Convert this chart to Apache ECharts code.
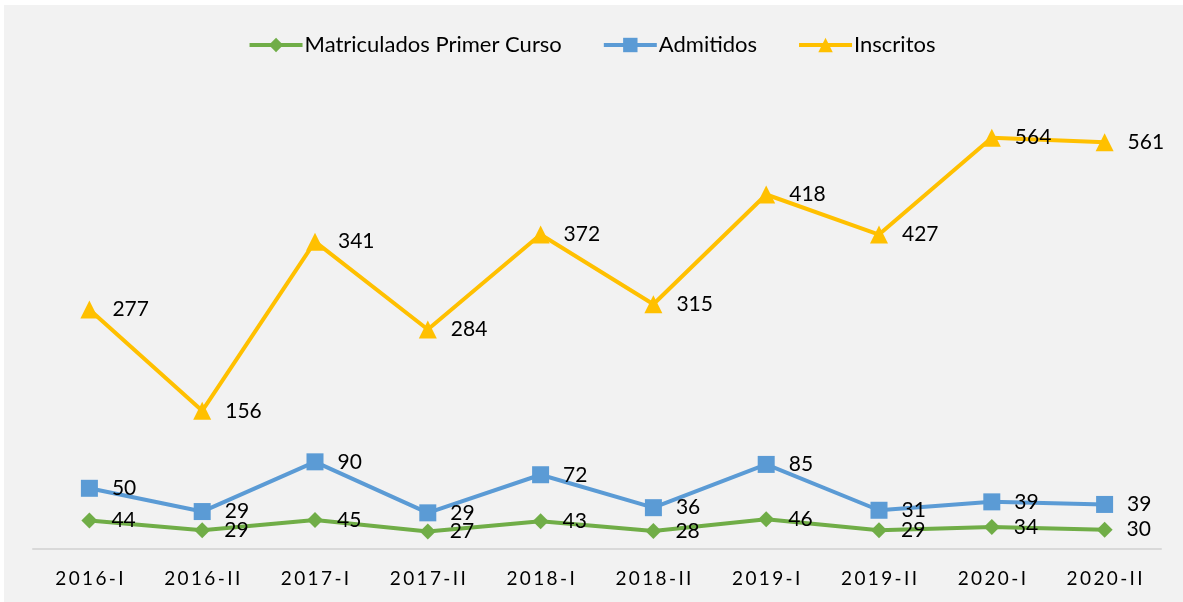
<!DOCTYPE html>
<html>
<head>
<meta charset="utf-8">
<script src="https://cdn.jsdelivr.net/npm/echarts@6/dist/echarts.min.js"></script>
<style>
    html, body { margin: 0; padding: 0; background: #ffffff; }
    #bg { position: absolute; left: 4px; top: 5px; right: 0; bottom: 0; background: #f2f2f2; }
    #chart { position: absolute; left: 0; top: 0; width: 1183px; height: 602px; }
</style>
</head>
<body>
<div id="bg"></div>
<div id="chart"></div>
<script>
// periodos
const periodos = ['2016-I', '2016-II', '2017-I', '2017-II', '2018-I', '2018-II', '2019-I', '2019-II', '2020-I', '2020-II'];
// series (lineas apiladas, como en el original)
const matriculados = [44, 29, 45, 27, 43, 28, 46, 29, 34, 30];
const admitidos = [50, 29, 90, 29, 72, 36, 85, 31, 39, 39];
const inscritos = [277, 156, 341, 284, 372, 315, 418, 427, 564, 561];

const fuente = 'Lato, "Open Sans", sans-serif';

function serie(name, data, color, symbol, size) {
    return {
        name: name,
        type: 'line',
        stack: 'total',
        data: data,
        symbol: symbol,
        symbolSize: size,
        lineStyle: { color: color, width: 4 },
        itemStyle: { color: color },
        label: {
            show: true,
            position: 'right',
            distance: 14,
            color: '#000',
            fontFamily: fuente,
            fontSize: 21
        },
        animation: false
    };
}

const chart = echarts.init(document.getElementById('chart'));
chart.setOption({
    backgroundColor: 'transparent',
    legend: {
        top: 29,
        left: 'center',
        itemWidth: 53,
        itemHeight: 18,
        itemGap: 40,
        symbolSize: 15,
        lineStyle: { width: 4 },
        textStyle: { fontFamily: fuente, fontSize: 22, color: '#000', padding: [0, 0, 0, -3] },
        data: ['Matriculados Primer Curso', 'Admitidos', 'Inscritos']
    },
    grid: {
        left: 33,
        right: 22,
        top: 97,
        bottom: 53,
        containLabel: false
    },
    xAxis: {
        type: 'category',
        data: periodos,
        boundaryGap: true,
        axisLine: { lineStyle: { color: '#d9d9d9', width: 2 } },
        axisTick: { show: false },
        axisLabel: {
            margin: 20,
            color: '#000',
            fontFamily: fuente,
            fontSize: 19,
            formatter: function (v) {
                return v.split('').join('\u2009');
            }
        }
    },
    yAxis: {
        type: 'value',
        min: 0,
        max: 700,
        show: false,
        splitLine: { show: false }
    },
    series: [
        serie('Matriculados Primer Curso', matriculados, '#70ad47', 'diamond', 16),
        serie('Admitidos', admitidos, '#5b9bd5', 'rect', 17),
        serie('Inscritos', inscritos, '#ffc000', 'triangle', 18)
    ]
});
</script>
</body>
</html>
